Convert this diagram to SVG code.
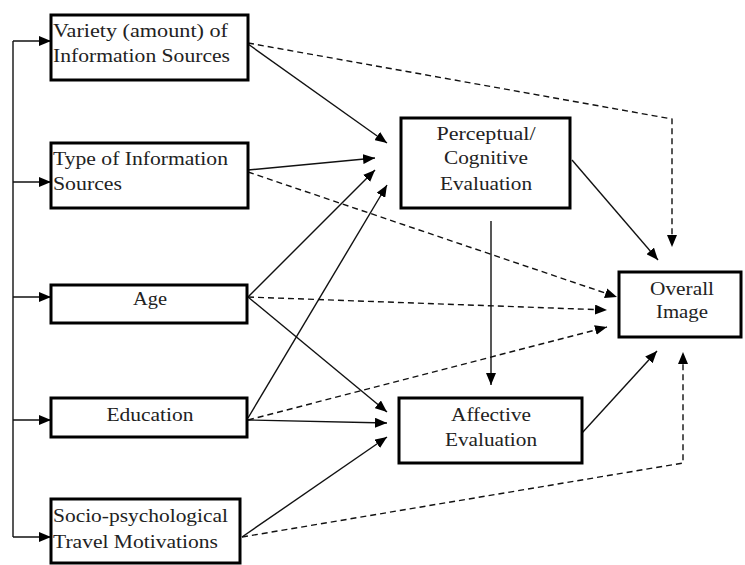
<svg xmlns="http://www.w3.org/2000/svg" width="745" height="565" viewBox="0 0 745 565">
<style>
.box{fill:#fff;stroke:#000;stroke-width:3}
.t{font-family:"Liberation Serif","Times New Roman",serif;font-size:19px;fill:#222}
.c{text-anchor:middle}
.s{fill:none;stroke:#111;stroke-width:1.4}
.d{fill:none;stroke:#111;stroke-width:1.4;stroke-dasharray:6,4}
</style>
<defs>
<marker id="ah" markerUnits="userSpaceOnUse" markerWidth="12" markerHeight="10" refX="12" refY="5" orient="auto">
<path d="M0,0 L12,5 L0,10 z" fill="#000"/>
</marker>
</defs>
<rect width="745" height="565" fill="#fff"/>
<g id="connectors">
<path class="s" d="M13,41 L13,537"/>
<path class="s" d="M13,41 L51,41" marker-end="url(#ah)"/>
<path class="s" d="M13,182 L51,182" marker-end="url(#ah)"/>
<path class="s" d="M13,297 L51,297" marker-end="url(#ah)"/>
<path class="s" d="M13,420 L51,420" marker-end="url(#ah)"/>
<path class="s" d="M13,537 L51,537" marker-end="url(#ah)"/>
<path class="s" d="M248,44 L387,143" marker-end="url(#ah)"/>
<path class="s" d="M248,170 L375,158" marker-end="url(#ah)"/>
<path class="s" d="M248,297 L375,170" marker-end="url(#ah)"/>
<path class="s" d="M248,418 L387,185" marker-end="url(#ah)"/>
<path class="s" d="M248,297 L387,412" marker-end="url(#ah)"/>
<path class="s" d="M248,420 L387,423" marker-end="url(#ah)"/>
<path class="s" d="M242,537 L387,437" marker-end="url(#ah)"/>
<path class="s" d="M572,160 L658,260" marker-end="url(#ah)"/>
<path class="s" d="M582,433 L657,351" marker-end="url(#ah)"/>
<path class="s" d="M491,221 L491,385" marker-end="url(#ah)"/>
<path class="d" d="M248,43 L672,119 L672,247" marker-end="url(#ah)"/>
<path class="d" d="M248,172 L617,297" marker-end="url(#ah)"/>
<path class="d" d="M248,297 L607,310" marker-end="url(#ah)"/>
<path class="d" d="M248,420 L607,327" marker-end="url(#ah)"/>
<path class="d" d="M242,537 L683,463 L683,352" marker-end="url(#ah)"/>
</g>
<g id="variety">
<rect class="box" x="51" y="15" width="197" height="65"/>
<text class="t" x="53" y="37" textLength="175" lengthAdjust="spacingAndGlyphs">Variety (amount) of</text>
<text class="t" x="53" y="62" textLength="177" lengthAdjust="spacingAndGlyphs">Information Sources</text>
</g>
<g id="type">
<rect class="box" x="51" y="143" width="197" height="65"/>
<text class="t" x="53" y="165" textLength="175" lengthAdjust="spacingAndGlyphs">Type of Information</text>
<text class="t" x="53" y="190" textLength="69" lengthAdjust="spacingAndGlyphs">Sources</text>
</g>
<g id="age">
<rect class="box" x="51" y="285" width="196" height="38"/>
<text class="t c" x="150" y="305" textLength="34" lengthAdjust="spacingAndGlyphs">Age</text>
</g>
<g id="education">
<rect class="box" x="51" y="398" width="196" height="39"/>
<text class="t c" x="150" y="421" textLength="87" lengthAdjust="spacingAndGlyphs">Education</text>
</g>
<g id="socio">
<rect class="box" x="51" y="499" width="189" height="64"/>
<text class="t" x="53" y="522" textLength="175" lengthAdjust="spacingAndGlyphs">Socio-psychological</text>
<text class="t" x="53" y="548" textLength="165" lengthAdjust="spacingAndGlyphs">Travel Motivations</text>
</g>
<g id="perceptual">
<rect class="box" x="401" y="118" width="169" height="90"/>
<text class="t c" x="486" y="140" textLength="99" lengthAdjust="spacingAndGlyphs">Perceptual/</text>
<text class="t c" x="486" y="164" textLength="84" lengthAdjust="spacingAndGlyphs">Cognitive</text>
<text class="t c" x="486" y="190" textLength="92" lengthAdjust="spacingAndGlyphs">Evaluation</text>
</g>
<g id="overall">
<rect class="box" x="619" y="272" width="122" height="65"/>
<text class="t c" x="682" y="295" textLength="64" lengthAdjust="spacingAndGlyphs">Overall</text>
<text class="t c" x="682" y="318" textLength="52" lengthAdjust="spacingAndGlyphs">Image</text>
</g>
<g id="affective">
<rect class="box" x="399" y="398" width="183" height="65"/>
<text class="t c" x="491" y="421" textLength="80" lengthAdjust="spacingAndGlyphs">Affective</text>
<text class="t c" x="491" y="446" textLength="92" lengthAdjust="spacingAndGlyphs">Evaluation</text>
</g>
</svg>
